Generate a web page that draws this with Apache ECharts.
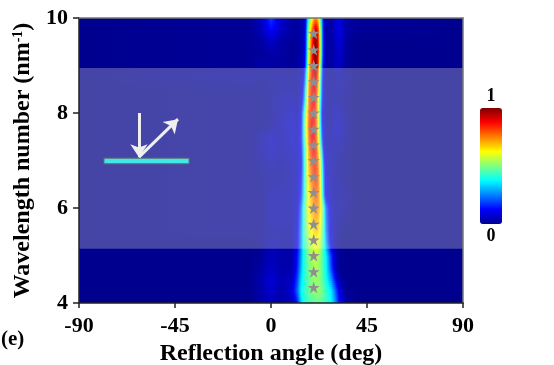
<!DOCTYPE html>
<html><head><meta charset="utf-8">
<script src="https://cdn.jsdelivr.net/npm/echarts@6/dist/echarts.min.js"></script>
<style>html,body{margin:0;padding:0;background:#fff}#c{width:554px;height:365px}</style>
</head><body><div id="c"></div>
<script>
const FONT = '"Liberation Serif"';
const jetColors = ['#00008f','#0000ff','#0080ff','#00ffff','#80ff80','#ffff00','#ff8000','#ff0000','#800000'];
const angles = [-90,-10,-5,0,5,10,12,14,15,16,17,18,19,20,21,22,23,24,25,26,28,30,32,35,40,90];
const waveNumbers = [10,9.75,9.5,9.25,9,8.75,8.5,8.25,8,7.75,7.5,7.25,7,6.75,6.5,6.25,6,5.75,5.5,5.25,5,4.75,4.5,4.25,4];
const intensity = [
[0,1,5,18,7,2,2,3,4,8,25,45,60,70,74,68,48,28,8,4,2,6,10,3,1,0],
[0,1,4,13,5,2,2,3,4,10,30,55,76,88,92,84,60,30,9,3,2,6,10,3,1,0],
[0,1,2,6,3,1,2,3,5,11,32,60,82,95,98,88,62,30,10,3,2,5,9,2,0,0],
[0,1,1,3,2,1,1,3,5,12,34,62,84,97,100,88,62,30,10,3,2,4,7,2,0,0],
[0,1,3,2,2,1,2,4,7,15,38,66,86,98,98,84,58,26,8,3,2,4,6,1,0,0],
[0,3,2,2,3,2,3,5,9,22,46,72,88,94,92,78,52,22,7,3,2,3,4,2,0,0],
[0,1,1,2,3,3,3,6,13,30,52,76,88,92,86,72,48,20,7,3,2,3,3,2,0,0],
[0,1,1,2,4,5,3,8,18,36,58,78,88,90,82,66,42,18,6,3,3,3,3,1,0,0],
[0,1,1,2,4,6,4,12,28,48,64,80,88,88,80,64,40,14,6,3,3,5,5,2,0,0],
[0,1,1,2,5,7,5,13,30,50,66,82,90,88,80,64,42,16,7,4,3,6,6,2,0,0],
[0,1,3,6,4,7,5,14,30,48,64,80,90,90,82,66,46,20,8,4,4,5,5,2,0,0],
[0,1,3,6,4,6,6,12,28,44,60,76,86,88,84,70,52,30,10,5,4,3,3,1,0,0],
[0,1,2,4,3,5,6,10,26,44,60,72,82,86,84,76,62,40,16,7,4,3,2,1,0,0],
[0,1,2,3,3,4,6,12,26,44,58,70,80,84,84,78,64,42,20,8,4,3,2,1,0,0],
[0,1,1,3,3,4,6,14,28,44,56,66,76,80,82,78,66,44,22,9,5,3,3,1,0,0],
[0,1,1,4,4,4,6,16,30,44,54,64,72,77,78,76,66,46,24,10,5,3,3,2,0,0],
[0,1,1,4,4,4,7,22,36,46,56,64,70,74,76,74,68,54,40,22,6,4,3,2,0,0],
[0,1,1,4,4,4,8,24,36,46,54,62,67,70,72,70,64,52,40,24,7,4,2,1,0,0],
[0,1,1,3,3,3,9,26,37,45,52,58,63,66,68,66,62,50,40,26,7,4,1,0,0,0],
[0,0,1,4,3,3,10,26,37,43,48,52,58,62,62,60,56,48,40,30,9,3,1,0,0,0],
[0,0,1,5,3,3,13,28,37,42,47,51,54,56,56,55,52,47,42,37,18,5,1,0,0,0],
[0,0,2,6,3,3,14,30,38,42,46,49,52,54,54,53,51,47,42,38,20,6,1,0,0,0],
[0,0,3,8,4,6,18,34,38,42,45,48,50,52,52,52,50,47,44,39,28,14,3,0,0,0],
[0,0,3,7,3,8,22,37,40,43,45,47,50,51,52,52,51,49,46,43,36,24,10,1,0,0],
[0,0,2,5,3,4,14,33,38,41,43,44,45,46,47,47,46,46,45,43,38,28,15,3,0,0]
];
const starAngles = [20,20,20,20,20,20,20,20,20,20,20,20,20,20,20,20,20];
const starWaves = [9.68,9.33,9,8.66,8.33,8,7.66,7.33,7,6.66,6.33,6,5.66,5.33,5,4.66,4.33];
const band = [5.14,8.95];
const mirror = [-78.3,-38.4,6.93,7.05];
const arrowDown = [[-61.9,8.0],[-61.9,7.07]];
const arrowUp = [[-61.9,7.07],[-43.6,7.87]];
const STAR='path://M50 0L61.8 36.3L100 36.3L69.1 58.8L80.9 95.1L50 72.6L19.1 95.1L30.9 58.8L0 36.3L38.2 36.3Z';

function hex(c){return [1,3,5].map(i=>parseInt(c.substr(i,2),16));}
const rgbStops = jetColors.map(hex);
function jet(v){
  const t=Math.max(0,Math.min(1,v/100))*(rgbStops.length-1);
  const i=Math.min(rgbStops.length-2,Math.floor(t)),f=t-i,a=rgbStops[i],b=rgbStops[i+1];
  return 'rgb('+a.map((p,k)=>Math.round(p+(b[k]-p)*f)).join(',')+')';
}
const cells=[];
for(let r=0;r<waveNumbers.length-1;r++)for(let c=0;c<angles.length-1;c++){
  cells.push([angles[c],angles[c+1],waveNumbers[r],waveNumbers[r+1],intensity[r][c],intensity[r][c+1],intensity[r+1][c],intensity[r+1][c+1]]);
}
const SUB=6;
function renderCell(params,api){
  const x0=api.value(0),x1=api.value(1),y0=api.value(2),y1=api.value(3);
  const a=api.value(4),b=api.value(5),c=api.value(6),d=api.value(7);
  const p0=api.coord([x0,y0]),p1=api.coord([x1,y1]);
  const children=[],X0=Math.round(p0[0]),X1=Math.round(p1[0]);
  for(let s=0;s<SUB;s++){
    const t=(s+.5)/SUB,l=a+(c-a)*t,r=b+(d-b)*t;
    const ya=Math.round(p0[1]+(p1[1]-p0[1])*s/SUB),yb=Math.round(p0[1]+(p1[1]-p0[1])*(s+1)/SUB);
    if(yb<=ya)continue;
    const colorStops=[0,.25,.5,.75,1].map(o=>({offset:o,color:jet(l+(r-l)*o)}));
    children.push({type:'rect',shape:{x:X0,y:ya,width:X1-X0,height:yb-ya},
      style:{fill:new echarts.graphic.LinearGradient(0,0,1,0,colorStops)}});
  }
  return {type:'group',children};
}
function renderRect(color,border){return function(params,api){
  const p0=api.coord([api.value(0),api.value(3)]),p1=api.coord([api.value(1),api.value(2)]);
  return {type:'rect',shape:{x:p0[0],y:p0[1],width:p1[0]-p0[0],height:p1[1]-p0[1]},
    style:{fill:color,stroke:border||null,lineWidth:border?1:0}};
};}
const labelStyle={fontFamily:FONT,fontWeight:'bold',fontSize:22,color:'#000'};
const chart=echarts.init(document.getElementById('c'),null,{renderer:'canvas'});
chart.setOption({
  animation:false,
  backgroundColor:'#fff',
  grid:{left:79,right:91,top:18,bottom:62,containLabel:false,outerBoundsMode:'none'},
  xAxis:[{type:'value',min:-90,max:90,interval:45,z:6,
    name:'Reflection angle (deg)',nameLocation:'middle',nameGap:33,
    nameTextStyle:{fontFamily:FONT,fontWeight:'bold',fontSize:24,color:'#000'},
    axisLine:{onZero:false,lineStyle:{color:'#222',width:1.5}},
    axisTick:{inside:false,length:5,lineStyle:{color:'#222',width:1.5}},
    axisLabel:Object.assign({margin:12,hideOverlap:false,showMinLabel:true,showMaxLabel:true},labelStyle),
    splitLine:{show:false}},
   {type:'value',position:'top',min:-90,max:90,interval:45,z:6,
    axisLine:{onZero:false,lineStyle:{color:'#777',width:1.5}},axisTick:{show:false},axisLabel:{show:false},splitLine:{show:false}}],
  yAxis:[{type:'value',min:4,max:10,interval:2,z:6,
    name:'{a|Wavelength number (nm}{s|-1}{a|)}',nameLocation:'middle',nameGap:44,nameRotate:90,
    nameTextStyle:{rich:{
      a:{fontFamily:FONT,fontWeight:'bold',fontSize:24,color:'#000'},
      s:{fontFamily:FONT,fontWeight:'bold',fontSize:14,color:'#000',verticalAlign:'top',padding:[0,0,6,0]}}},
    axisLine:{onZero:false,lineStyle:{color:'#222',width:1.5}},
    axisTick:{inside:false,length:6,lineStyle:{color:'#222',width:1.5}},
    axisLabel:Object.assign({margin:11,showMinLabel:true,showMaxLabel:true},labelStyle),
    splitLine:{show:false}},
   {type:'value',position:'right',min:4,max:10,interval:2,z:6,
    axisLine:{onZero:false,lineStyle:{color:'#777',width:1.5}},axisTick:{show:false},axisLabel:{show:false},splitLine:{show:false}}],
  visualMap:{type:'continuous',min:0,max:100,seriesIndex:0,dimension:4,calculable:false,hoverLink:false,
    left:465,top:72,itemWidth:22,itemHeight:116,text:['1','0'],textGap:3,
    textStyle:{fontFamily:FONT,fontWeight:'bold',fontSize:18,color:'#000'},
    inRange:{color:jetColors}},
  graphic:[{type:'text',left:1,top:329,style:{text:'(e)',fontFamily:FONT,fontWeight:'bold',fontSize:21,fill:'#000'}}],
  series:[
    {type:'custom',name:'intensity',coordinateSystem:'cartesian2d',silent:true,clip:true,z:2,
     renderItem:renderCell,data:cells,encode:{x:[0,1],y:[2,3]}},
    {type:'custom',name:'band',silent:true,z:3,
     renderItem:renderRect('rgba(255,255,230,0.27)'),data:[[-90,90,band[0],band[1]]],encode:{x:[0,1],y:[2,3]}},
    {type:'custom',name:'mirror',silent:true,z:4,
     renderItem:renderRect('#40e8e8','#666'),data:[mirror],encode:{x:[0,1],y:[2,3]}},
    {type:'scatter',name:'stars',z:5,silent:true,symbol:STAR,symbolSize:12,
     itemStyle:{color:'#8f8f8f',opacity:1},
     data:starAngles.map((a,i)=>[a,starWaves[i]]),
     markLine:{silent:true,symbol:['none','arrow'],symbolSize:13,precision:4,animation:false,
       lineStyle:{color:'#efefef',width:3,type:'solid',opacity:1},label:{show:false},
       data:[[{coord:arrowDown[0]},{coord:arrowDown[1]}],[{coord:arrowUp[0]},{coord:arrowUp[1]}]]}}
  ]
});
</script></body></html>
